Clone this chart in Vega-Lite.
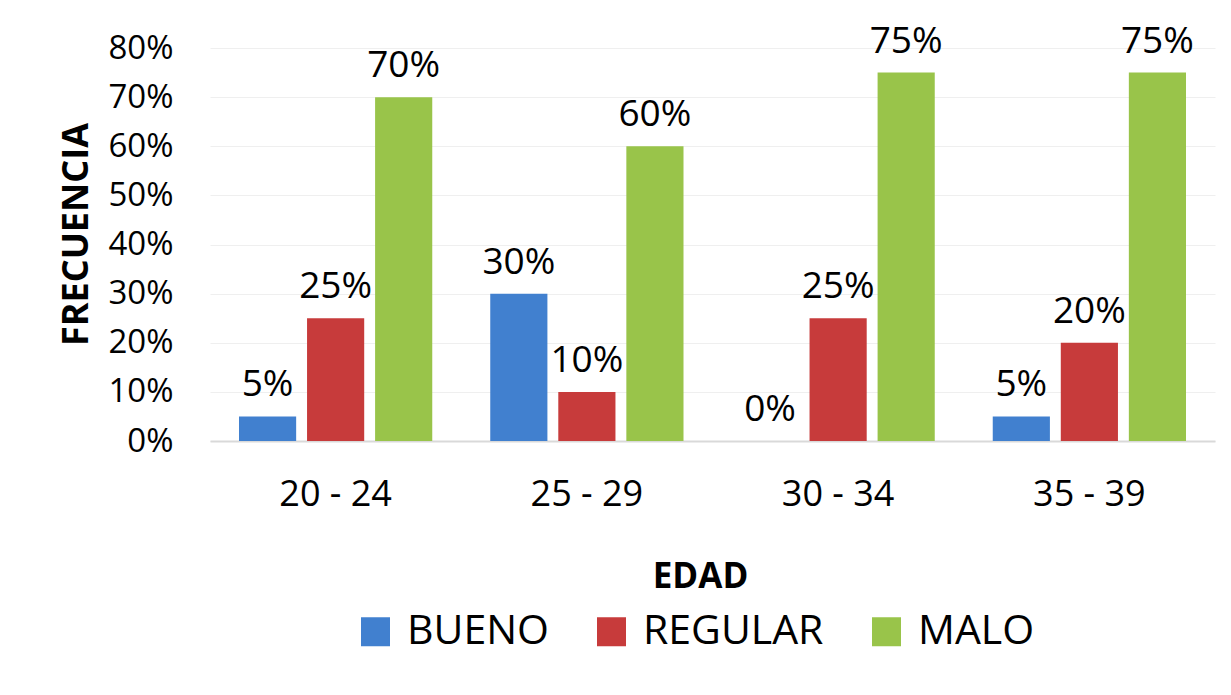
{
  "$schema": "https://vega.github.io/schema/vega-lite/v6.json",
  "width": 1005,
  "height": 393,
  "autosize": {"type": "none"},
  "padding": {"left": 210, "top": 48, "right": 16, "bottom": 254},
  "background": "white",
  "config": {"view": {"stroke": null}, "font": "Open Sans"},
  "data": {
    "values": [
      {"edad": "20 - 24", "cal": "BUENO", "v": 0.05},
      {"edad": "20 - 24", "cal": "REGULAR", "v": 0.25},
      {"edad": "20 - 24", "cal": "MALO", "v": 0.70},
      {"edad": "25 - 29", "cal": "BUENO", "v": 0.30},
      {"edad": "25 - 29", "cal": "REGULAR", "v": 0.10},
      {"edad": "25 - 29", "cal": "MALO", "v": 0.60},
      {"edad": "30 - 34", "cal": "BUENO", "v": 0.0},
      {"edad": "30 - 34", "cal": "REGULAR", "v": 0.25},
      {"edad": "30 - 34", "cal": "MALO", "v": 0.75},
      {"edad": "35 - 39", "cal": "BUENO", "v": 0.05},
      {"edad": "35 - 39", "cal": "REGULAR", "v": 0.20},
      {"edad": "35 - 39", "cal": "MALO", "v": 0.75}
    ]
  },
  "encoding": {
    "x": {
      "field": "edad", "type": "nominal",
      "sort": ["20 - 24", "25 - 29", "30 - 34", "35 - 39"],
      "scale": {"paddingInner": 0.22, "paddingOuter": 0.11},
      "axis": {
        "title": "EDAD", "labelAngle": 0, "labelFontSize": 36, "labelColor": "black",
        "labelPadding": 36, "ticks": false, "domainColor": "#D9D9D9", "domainWidth": 2,
        "titleFontSize": 35, "titleFontWeight": "bold", "titleColor": "black", "titlePadding": 47,
        "titleX": 490
      }
    },
    "xOffset": {
      "field": "cal", "type": "nominal", "sort": ["BUENO", "REGULAR", "MALO"],
      "scale": {"paddingInner": 0.16, "paddingOuter": 0.02}
    },
    "y": {
      "field": "v", "type": "quantitative",
      "scale": {"domain": [0, 0.8]},
      "axis": {
        "format": ".0%", "values": [0, 0.1, 0.2, 0.3, 0.4, 0.5, 0.6, 0.7, 0.8],
        "title": "FRECUENCIA", "domain": false, "ticks": false,
        "gridColor": "#EFEFEF", "labelFontSize": 33, "labelColor": "black", "labelPadding": 37,
        "titleFontSize": 36, "titleFontWeight": "bold", "titleColor": "black", "titlePadding": 12,
        "titleY": 186
      }
    }
  },
  "layer": [
    {
      "mark": {"type": "bar"},
      "encoding": {
        "color": {
          "field": "cal", "type": "nominal",
          "scale": {"domain": ["BUENO", "REGULAR", "MALO"], "range": ["#4180CF", "#C73B3B", "#99C44A"]},
          "legend": {
            "title": null, "orient": "none", "direction": "horizontal",
            "legendX": 145, "legendY": 563, "symbolType": "square", "symbolSize": 841,
            "symbolStrokeWidth": 0, "labelFontSize": 41, "labelColor": "black", "labelLimit": 400,
            "columnPadding": 42, "labelOffset": 11, "padding": 0
          }
        }
      }
    },
    {
      "mark": {"type": "text", "baseline": "alphabetic", "dy": -20, "fontSize": 37, "color": "black"},
      "encoding": {"text": {"field": "v", "type": "quantitative", "format": ".0%"}}
    }
  ]
}
